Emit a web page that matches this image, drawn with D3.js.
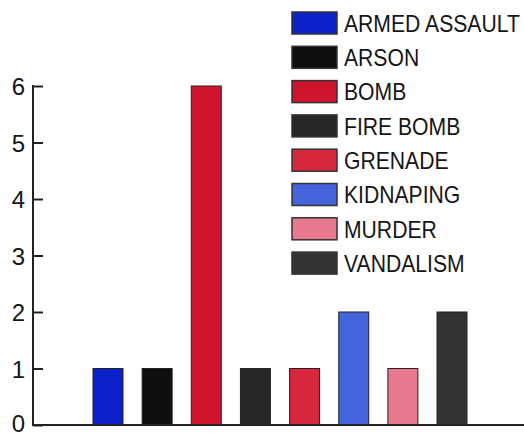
<!DOCTYPE html>
<html><head><meta charset="utf-8">
<script src="https://cdn.jsdelivr.net/npm/d3@7"></script>
<style>body{margin:0;background:#fff}svg{display:block}text{font-family:"Liberation Sans",Arial,sans-serif;fill:#151515}</style>
</head><body><svg id="c" width="524" height="437"></svg>
<script>
const categories = ["ARMED ASSAULT","ARSON","BOMB","FIRE BOMB","GRENADE","KIDNAPING","MURDER","VANDALISM"];
const values = [1,1,6,1,1,2,1,2];
const colors = ["#0c22c8","#0e0e0e","#d0142c","#262626","#d8283e","#4564dc","#e9798f","#333333"];
const yTicks = [0,1,2,3,4,5,6];

const svg = d3.select("#c");
const x = d3.scaleBand().domain(categories).range([93,467]).paddingInner(0.39).paddingOuter(0);
const y = d3.scaleLinear().domain([0,6]).range([425,86]);

// bars
svg.selectAll("rect.bar").data(categories).join("rect")
  .attr("class","bar")
  .attr("x",d=>x(d)).attr("width",x.bandwidth())
  .attr("y",(d,i)=>y(values[i])).attr("height",(d,i)=>y(0)-y(values[i]))
  .attr("fill",(d,i)=>colors[i]).attr("stroke","#222").attr("stroke-width",1);

// y axis
const ax = svg.append("g").attr("transform","translate(33,0)")
  .call(d3.axisRight(y).tickValues(yTicks).tickSize(10).tickFormat(""));
ax.select(".domain").remove();
ax.selectAll(".tick line").attr("stroke","#222").attr("stroke-width",2);
svg.append("line").attr("x1",33).attr("x2",33).attr("y1",y(6)-1).attr("y2",y(0)+1).attr("stroke","#222").attr("stroke-width",2);
svg.append("line").attr("x1",32).attr("x2",524).attr("y1",y(0)).attr("y2",y(0)).attr("stroke","#222").attr("stroke-width",2);
svg.selectAll("text.yl").data(yTicks).join("text").attr("class","yl")
  .attr("x",25).attr("y",d=>y(d)+(d===0?1:3)).attr("text-anchor","end").attr("dominant-baseline","middle")
  .attr("font-size",24).text(d=>d);

// legend
const lg = svg.selectAll("g.lg").data(categories).join("g").attr("class","lg")
  .attr("transform",(d,i)=>`translate(292,${12+i*34.3})`);
lg.append("rect").attr("width",45).attr("height",22).attr("fill",(d,i)=>colors[i]).attr("stroke","#333").attr("stroke-width",1.5);
lg.append("text").attr("transform","translate(52,12) scale(0.9,1)").attr("dominant-baseline","central").attr("font-size",23.5).text(d=>d);
</script></body></html>
